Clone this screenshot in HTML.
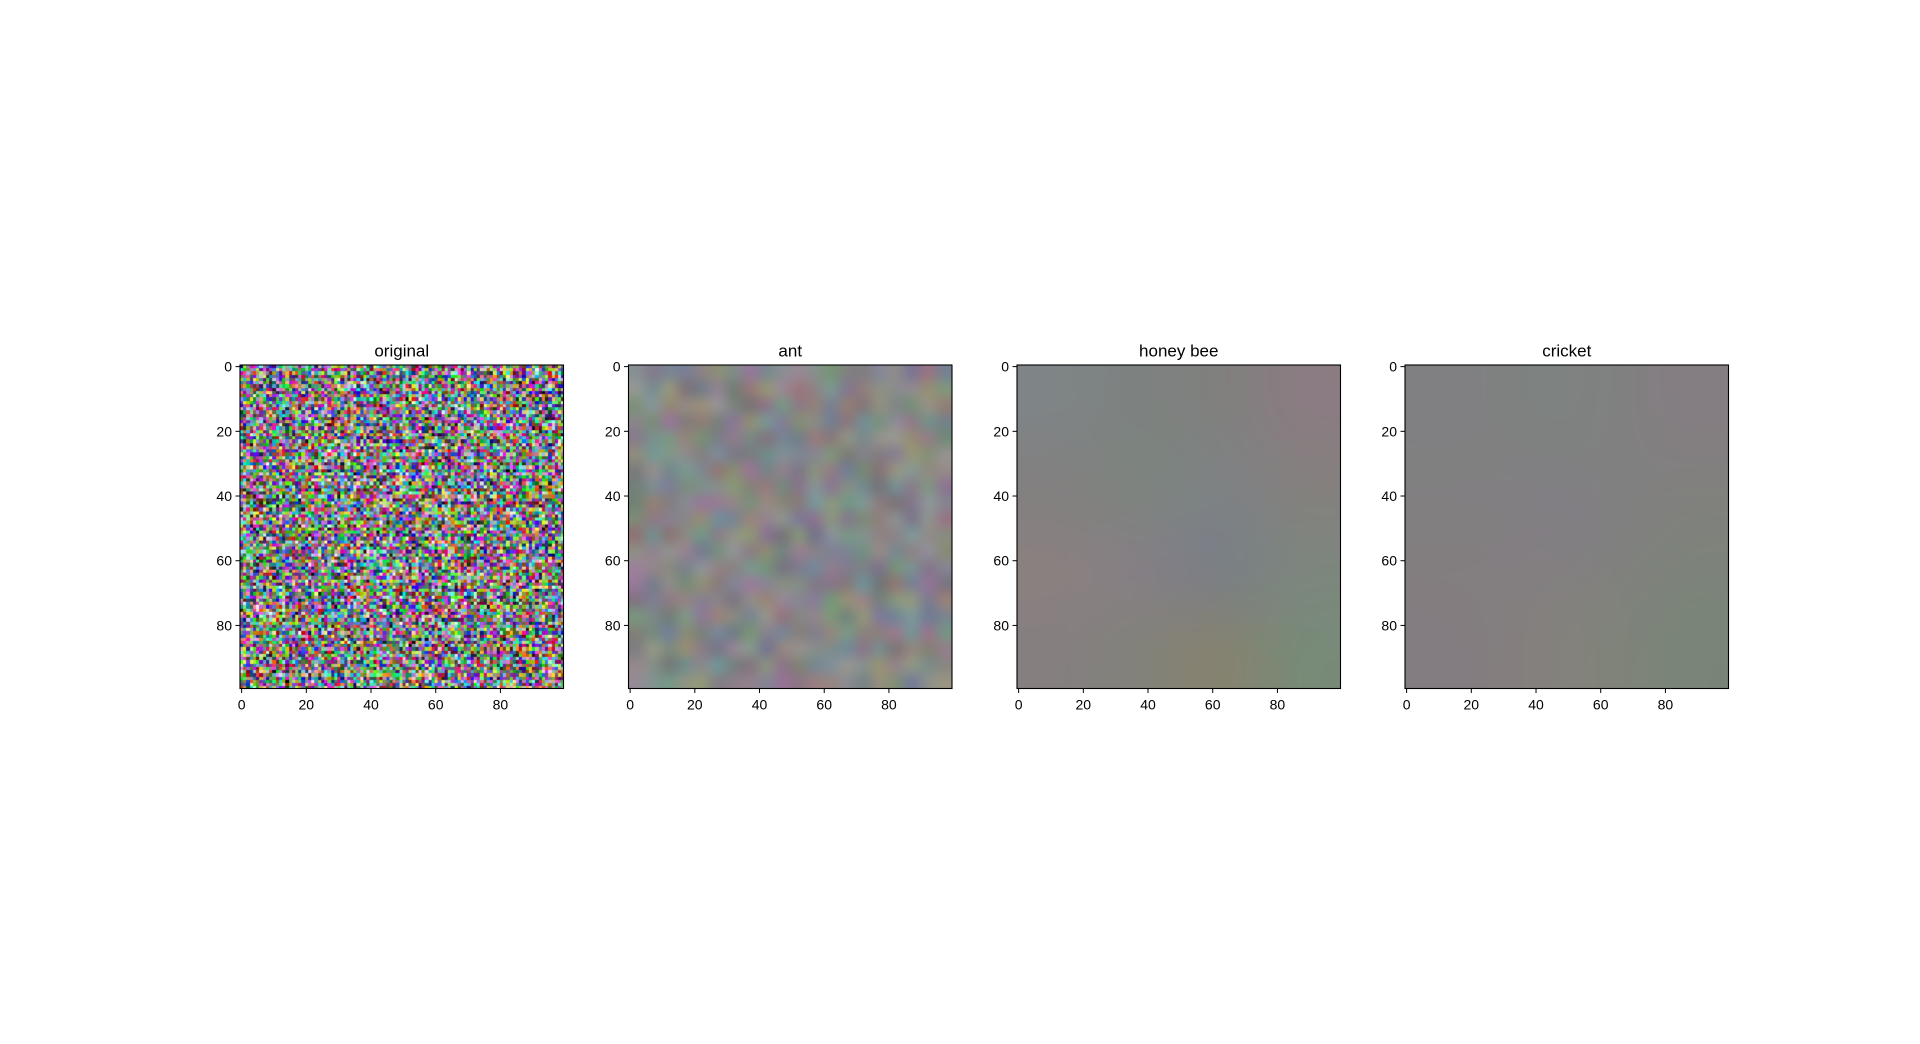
<!DOCTYPE html>
<html><head><meta charset="utf-8">
<style>
html,body{margin:0;padding:0;background:#fff;}
#fig{position:relative;width:1920px;height:1044px;overflow:hidden;background:#fff;font-family:"Liberation Sans","DejaVu Sans",sans-serif;}
canvas{position:absolute;}
svg{position:absolute;left:0;top:0;}
</style></head>
<body>
<div id="fig">
<svg id="ov" width="1920" height="1044"></svg>
</div>
<script>
// ---- data ----
const panelTitles = ["original", "ant", "honey bee", "cricket"];
const tickValues = [0, 20, 40, 60, 80];
const tickLabels = ["0", "20", "40", "60", "80"];
const imageSize = 100;
// estimated coarse color fields (blurred panels)
const honeyBeeGrid = [
  ["#7f8486","#7d8280","#80807e","#8a7c82"],
  ["#828080","#7d847e","#7e8284","#84807e"],
  ["#8a8080","#857f85","#7a7f86","#7d867e"],
  ["#857f80","#82827a","#868270","#788a78"]
];
const cricketGrid = [
  ["#808082","#7e8280","#847e82"],
  ["#827f80","#827e84","#7f827c"],
  ["#837c80","#84827c","#7a8478"]
];

// ---- layout ----
const panelLefts = [240, 628.5, 1017, 1405];
const axTop = 365, axSize = 323.5;
const NS = "http://www.w3.org/2000/svg";
const fig = document.getElementById('fig');
const ov = document.getElementById('ov');

function scale(v){ return (v + 0.5) / imageSize * axSize; }

function rng(seed){ let s = seed >>> 0; return () => { s = (s * 1664525 + 1013904223) >>> 0; return s / 4294967296; }; }

function hexToRgb(h){ return [parseInt(h.substr(1,2),16),parseInt(h.substr(3,2),16),parseInt(h.substr(5,2),16)]; }

function makeCanvas(i, name){
  const c = document.createElement('canvas');
  c.width = axSize; c.height = axSize;
  c.style.left = panelLefts[i] + 'px'; c.style.top = axTop + 'px';
  c.style.width = axSize + 'px'; c.style.height = axSize + 'px';
  
  
  fig.insertBefore(c, ov);
  return c.getContext('2d');
}

function drawSmall(ctx, w, h, fill, smooth){
  const s = document.createElement('canvas'); s.width = w; s.height = h;
  const sc = s.getContext('2d'); const id = sc.createImageData(w, h);
  for (let y=0;y<h;y++) for (let x=0;x<w;x++){ const c = fill(x,y); const k=(y*w+x)*4; id.data[k]=c[0];id.data[k+1]=c[1];id.data[k+2]=c[2];id.data[k+3]=255; }
  sc.putImageData(id,0,0);
  ctx.imageSmoothingEnabled = smooth;
  ctx.imageSmoothingQuality = 'high';
  ctx.drawImage(s, 0, 0, axSize, axSize);
}

// panel 0: random noise texture
{ const r = rng(12345); const ctx = makeCanvas(0, 'original-image');
  drawSmall(ctx, imageSize, imageSize, () => [Math.floor(r()*256), Math.floor(r()*256), Math.floor(r()*256)], false); }
// panel 1: muted blurred noise
{ const r = rng(777); const ctx = makeCanvas(1, 'ant-image');
  drawSmall(ctx, 20, 20, () => [Math.floor(112+r()*44), Math.floor(114+r()*40), Math.floor(116+r()*40)], true); }
// panel 2/3: estimated grids
function gridFill(g){ return (x,y) => hexToRgb(g[y][x]); }
{ const ctx = makeCanvas(2, 'honey-bee-image'); drawSmall(ctx, 4, 4, gridFill(honeyBeeGrid), true); }
{ const ctx = makeCanvas(3, 'cricket-image'); drawSmall(ctx, 3, 3, gridFill(cricketGrid), true); }

function el(tag, attrs, name){
  const e = document.createElementNS(NS, tag);
  for (const k in attrs) e.setAttribute(k, attrs[k]);
  
  
  ov.appendChild(e); return e;
}

panelTitles.forEach((t, i) => {
  const L = panelLefts[i];
  el('rect', {x:L, y:axTop, width:axSize, height:axSize, fill:'none', stroke:'#000', 'stroke-width':1.1}, 'axes-frame');
  const tt = el('text', {x:L+axSize/2, y:axTop-8.5, 'text-anchor':'middle', 'font-size':17, fill:'#000'}, 'panel-title');
  tt.textContent = t;
  tickValues.forEach((v, j) => {
    const px = L + scale(v), py = axTop + scale(v);
    el('line', {x1:px, y1:axTop+axSize, x2:px, y2:axTop+axSize+4.5, stroke:'#000', 'stroke-width':1}, 'x-tick');
    const xl = el('text', {x:px, y:axTop+axSize+21, 'text-anchor':'middle', 'font-size':14, fill:'#000'}, 'x-tick-label');
    xl.textContent = tickLabels[j];
    el('line', {x1:L-4.5, y1:py, x2:L, y2:py, stroke:'#000', 'stroke-width':1}, 'y-tick');
    const yl = el('text', {x:L-8, y:py+5, 'text-anchor':'end', 'font-size':14, fill:'#000'}, 'y-tick-label');
    yl.textContent = tickLabels[j];
  });
});
</script>
</body></html>
